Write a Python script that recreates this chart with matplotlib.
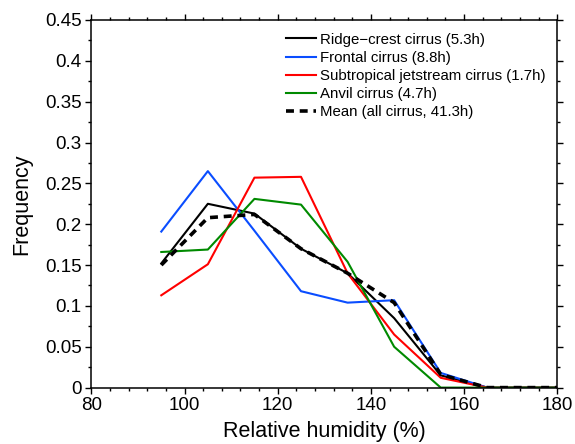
import numpy as np
import matplotlib
matplotlib.use('Agg')
import matplotlib.pyplot as plt
from matplotlib.ticker import MultipleLocator, FuncFormatter

plt.rcParams['font.family'] = ['Liberation Sans', 'DejaVu Sans']

rh = [95, 105, 115, 125, 135, 145, 155, 165, 175, 185]
ridge = [0.152, 0.225, 0.213, 0.170, 0.140, 0.085, 0.015, 0.0, 0.0, 0.0]
frontal = [0.191, 0.265, 0.192, 0.118, 0.104, 0.107, 0.018, 0.0, 0.0, 0.0]
subtrop = [0.113, 0.151, 0.257, 0.258, 0.140, 0.065, 0.012, 0.0, 0.0, 0.0]
anvil = [0.166, 0.169, 0.231, 0.224, 0.154, 0.050, 0.0, 0.0, 0.0, 0.0]
mean_all = [0.150, 0.208, 0.212, 0.170, 0.140, 0.104, 0.016, 0.0, 0.0, 0.0]

labels = ['Ridge\u2212crest cirrus (5.3h)', 'Frontal cirrus (8.8h)',
          'Subtropical jetstream cirrus (1.7h)', 'Anvil cirrus (4.7h)',
          'Mean (all cirrus, 41.3h)']

fig = plt.figure(figsize=(5.75, 4.44), dpi=100)
ax = fig.add_axes([0.159, 0.127, 0.81, 0.828])

ax.plot(rh, ridge, color='black', lw=1.5, label=labels[0])
ax.plot(rh, frontal, color='#0a4dff', lw=1.5, label=labels[1])
ax.plot(rh, subtrop, color='#ff0000', lw=1.5, label=labels[2])
ax.plot(rh, anvil, color='#008a00', lw=1.5, label=labels[3])
ax.plot(rh, mean_all, color='black', lw=2.6, ls=(0, (2.2, 1.6)), label=labels[4])

ax.set_xlim(80, 180)
ax.set_ylim(0, 0.45)
ax.xaxis.set_major_locator(MultipleLocator(20))
ax.xaxis.set_minor_locator(MultipleLocator(4))
ax.yaxis.set_major_locator(MultipleLocator(0.05))
ax.yaxis.set_minor_locator(MultipleLocator(0.025))
ax.yaxis.set_major_formatter(FuncFormatter(lambda v, p: '0' if abs(v) < 1e-9 else '%g' % round(v, 3)))
ax.tick_params(which='both', direction='out', top=True, right=True,
               labeltop=False, labelright=False, labelsize=13.5, width=1)
ax.tick_params(which='major', length=4, pad=3)
ax.tick_params(which='minor', length=2.5)
for sp in ax.spines.values():
    sp.set_linewidth(1.1)

ax.set_xlabel('Relative humidity (%)', fontsize=15.5, labelpad=5)
ax.set_ylabel('Frequency', fontsize=15.5, labelpad=9)

ax.legend(loc='upper right', bbox_to_anchor=(0.995, 0.99), frameon=False,
          fontsize=10.8, handlelength=2.0, handletextpad=0.27, labelspacing=0.28,
          borderaxespad=0.2)

fig.savefig('out.png', dpi=100)
